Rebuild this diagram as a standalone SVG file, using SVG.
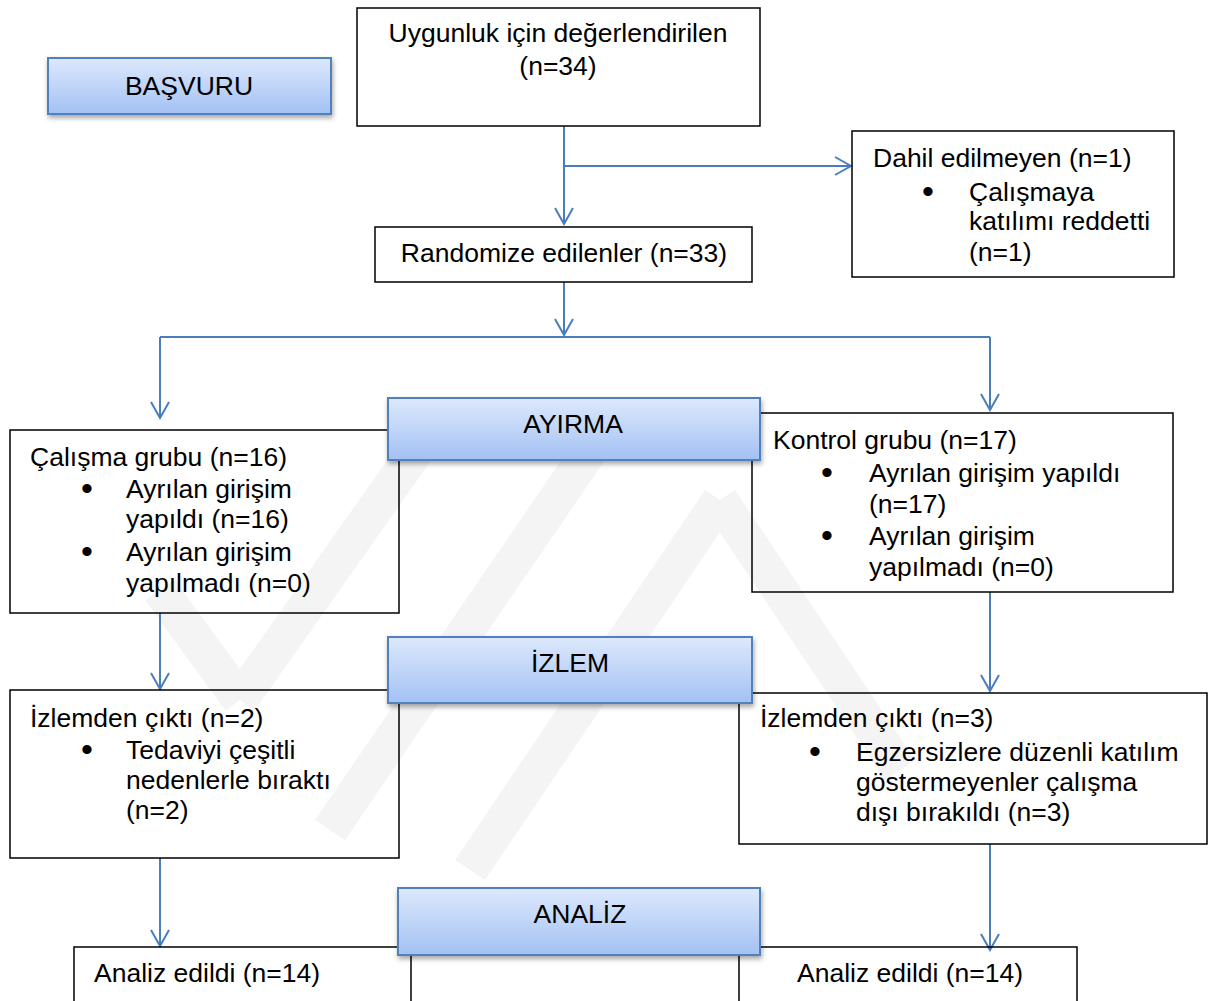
<svg xmlns="http://www.w3.org/2000/svg" width="1208" height="1001" viewBox="0 0 1208 1001">
<defs>
<linearGradient id="blueGrad" x1="0" y1="0" x2="0" y2="1">
<stop offset="0" stop-color="#dde9fc"/>
<stop offset="1" stop-color="#a3c1f4"/>
</linearGradient>
<filter id="shadow" x="-10%" y="-20%" width="120%" height="150%">
<feDropShadow dx="1" dy="3" stdDeviation="2.5" flood-color="#000" flood-opacity="0.35"/>
</filter>
<marker id="arrow" viewBox="0 0 20 20" refX="18" refY="10" markerWidth="20" markerHeight="20" markerUnits="userSpaceOnUse" orient="auto">
<path d="M2,1 L18,10 L2,19" fill="none" stroke="#4a7ebb" stroke-width="2"/>
</marker>
<style>
.box{fill:none;stroke:#000;stroke-width:1.5}
.hdr{fill:url(#blueGrad);stroke:#4f81bd;stroke-width:2;filter:url(#shadow)}
.t{font-family:"Liberation Sans",Arial,sans-serif;font-size:26.5px;fill:#000}
.c{text-anchor:middle}
.b{font-family:"Liberation Sans",Arial,sans-serif;font-size:34px;fill:#000;text-anchor:middle}
.conn{fill:none;stroke:#4a7ebb;stroke-width:2}
.wm{fill:none;stroke:#f4f4f4;stroke-width:36;stroke-linecap:butt}
</style>
</defs>
<rect width="1208" height="1001" fill="#fff"/>
<g id="watermark">
<line class="wm" x1="160" y1="590" x2="240" y2="700"/>
<line class="wm" x1="240" y1="700" x2="420" y2="445"/>
<line class="wm" x1="330" y1="830" x2="590" y2="450"/>
<line class="wm" x1="470" y1="870" x2="720" y2="500"/>
<line class="wm" x1="720" y1="500" x2="900" y2="770"/>
</g>
<g id="connectors">
<line class="conn" x1="564" y1="126" x2="564" y2="224" marker-end="url(#arrow)"/>
<line class="conn" x1="564" y1="166" x2="851" y2="166" marker-end="url(#arrow)"/>
<line class="conn" x1="564" y1="282" x2="564" y2="335" marker-end="url(#arrow)"/>
<polyline class="conn" points="160,337 990,337"/>
<line class="conn" x1="160" y1="337" x2="160" y2="418" marker-end="url(#arrow)"/>
<line class="conn" x1="990" y1="337" x2="990" y2="410" marker-end="url(#arrow)"/>
<line class="conn" x1="160" y1="613" x2="160" y2="689" marker-end="url(#arrow)"/>
<line class="conn" x1="990" y1="592" x2="990" y2="691" marker-end="url(#arrow)"/>
<line class="conn" x1="160" y1="858" x2="160" y2="946" marker-end="url(#arrow)"/>
<line class="conn" x1="990" y1="844" x2="990" y2="950" marker-end="url(#arrow)"/>
</g>
<g id="basvuru">
<rect class="hdr" x="48" y="58" width="283" height="56"/>
<text class="t c" x="189" y="95">BAŞVURU</text>
</g>
<g id="uygunluk">
<rect class="box" x="357" y="8" width="403" height="118"/>
<text class="t c" x="558" y="42">Uygunluk için değerlendirilen</text>
<text class="t c" x="558" y="75">(n=34)</text>
</g>
<g id="dahil">
<rect class="box" x="852" y="131" width="322" height="146"/>
<text class="t" x="873" y="167">Dahil edilmeyen (n=1)</text>
<text class="b" x="928" y="203">•</text>
<text class="t" x="969" y="201">Çalışmaya</text>
<text class="t" x="969" y="230">katılımı reddetti</text>
<text class="t" x="969" y="261">(n=1)</text>
</g>
<g id="randomize">
<rect class="box" x="375" y="227" width="377" height="55"/>
<text class="t c" x="564" y="262">Randomize edilenler (n=33)</text>
</g>
<g id="calisma">
<rect class="box" x="10" y="430" width="389" height="183"/>
<text class="t" x="30" y="466">Çalışma grubu (n=16)</text>
<text class="b" x="87" y="500">•</text>
<text class="t" x="126" y="498">Ayrılan girişim</text>
<text class="t" x="126" y="528">yapıldı (n=16)</text>
<text class="b" x="87" y="563">•</text>
<text class="t" x="126" y="561">Ayrılan girişim</text>
<text class="t" x="126" y="592">yapılmadı (n=0)</text>
</g>
<g id="kontrol">
<rect class="box" x="752" y="413" width="421" height="179"/>
<text class="t" x="773" y="449">Kontrol grubu (n=17)</text>
<text class="b" x="827" y="484">•</text>
<text class="t" x="869" y="482">Ayrılan girişim yapıldı</text>
<text class="t" x="869" y="513">(n=17)</text>
<text class="b" x="827" y="547">•</text>
<text class="t" x="869" y="545">Ayrılan girişim</text>
<text class="t" x="869" y="576">yapılmadı (n=0)</text>
</g>
<g id="izlem-sol">
<rect class="box" x="10" y="690" width="389" height="168"/>
<text class="t" x="30" y="727">İzlemden çıktı (n=2)</text>
<text class="b" x="87" y="761">•</text>
<text class="t" x="126" y="759">Tedaviyi çeşitli</text>
<text class="t" x="126" y="789">nedenlerle bıraktı</text>
<text class="t" x="126" y="819">(n=2)</text>
</g>
<g id="izlem-sag">
<rect class="box" x="739" y="693" width="468" height="151"/>
<text class="t" x="760" y="727">İzlemden çıktı (n=3)</text>
<text class="b" x="815" y="763">•</text>
<text class="t" x="856" y="761">Egzersizlere düzenli katılım</text>
<text class="t" x="856" y="791">göstermeyenler çalışma</text>
<text class="t" x="856" y="821">dışı bırakıldı (n=3)</text>
</g>
<g id="analiz-sol">
<rect class="box" x="74" y="947" width="337" height="60"/>
<text class="t" x="94" y="982">Analiz edildi (n=14)</text>
</g>
<g id="analiz-sag">
<rect class="box" x="739" y="947" width="338" height="60"/>
<text class="t" x="797" y="982">Analiz edildi (n=14)</text>
</g>
<g id="ayirma">
<rect class="hdr" x="388" y="398" width="372" height="62"/>
<text class="t c" x="573" y="433">AYIRMA</text>
</g>
<g id="izlem">
<rect class="hdr" x="388" y="637" width="364" height="66"/>
<text class="t c" x="570" y="672">İZLEM</text>
</g>
<g id="analiz">
<rect class="hdr" x="398" y="888" width="362" height="67"/>
<text class="t c" x="580" y="923">ANALİZ</text>
</g>
</svg>
